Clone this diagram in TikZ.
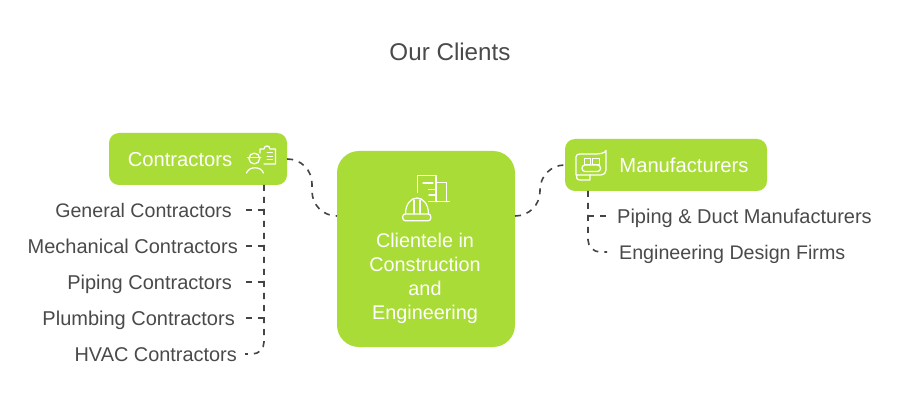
\documentclass[tikz,border=0pt]{standalone}
\usepackage{fontspec}
\setmainfont{Liberation Sans}
\definecolor{lime}{HTML}{A9DC37}
\definecolor{ink}{HTML}{4A4A4A}
\definecolor{line}{HTML}{444444}
\tikzset{
 x=1pt,y=-1pt,
 hub/.style={fill=lime,draw=none,inner sep=0pt,rounded corners=#1},
 hub/.default=10pt,
 toplabel/.style={text=white,font=\fontsize{20.2}{24}\selectfont,inner sep=0pt,text height=14pt,text depth=0pt},
 leaf/.style={text=ink,font=\fontsize{#1}{22}\selectfont,inner sep=0pt,text height=14pt,text depth=0pt},
 leaf/.default=20,
 link/.style={draw=line,line width=1.6pt,dash pattern=on 6pt off 6pt},
 glyph/.style={draw=white,line width=1.25pt,line join=round,line cap=round},
}
\begin{document}
\begin{tikzpicture}
\useasboundingbox (0,0) rectangle (900,414);
\fill[white] (0,0) rectangle (900,414);
\node[text=ink,font=\fontsize{24.2}{28}\selectfont,inner sep=0pt] (title) at (450,52) {Our Clients};
% boxes
\node[hub,minimum width=178pt,minimum height=52pt] (contractors) at (198,159) {};
\node[hub=22pt,minimum width=178pt,minimum height=196pt] (center) at (426,249) {};
\node[hub,minimum width=202pt,minimum height=52pt] (manufacturers) at (666,165) {};
\node[toplabel,anchor=center] (contractorstext) at (180,159.5) {Contractors};
\node[toplabel,anchor=center] (manufacturerstext) at (684,165.5) {Manufacturers};
\node[text=white,inner sep=0pt,align=center,font=\fontsize{19.8}{24}\selectfont] (centertext) at (425,278) {Clientele in\\Construction\\and\\Engineering};
% leaves
\node[leaf=19.6,anchor=east] (l1) at (232,210.5) {General Contractors};
\node[leaf,anchor=east] (l2) at (238,246.5) {Mechanical Contractors};
\node[leaf,anchor=east] (l3) at (232,282.5) {Piping Contractors};
\node[leaf,anchor=east] (l4) at (235,318.5) {Plumbing Contractors};
\node[leaf=19.9,anchor=east] (l5) at (237,354.5) {HVAC Contractors};
\node[leaf,anchor=west] (r1) at (617,216.5) {Piping \& Duct Manufacturers};
\node[leaf=19.65,anchor=west] (r2) at (619,252.5) {Engineering Design Firms};
% connector ends
\coordinate (cin) at (337,216);
\coordinate (cout) at (515,216);
\coordinate (ctrunk) at (264,185);
\coordinate (ca) at (264,210);
\coordinate (cb) at (264,246);
\coordinate (cc) at (264,282);
\coordinate (cd) at (264,318);
\coordinate (ce) at (264,342);
\coordinate (mtrunk) at (588,191);
\coordinate (ma) at (588,216);
\coordinate (mb) at (588,240);
\coordinate (l5end) at (245,354);
\coordinate (r2end) at (607,252);
\coordinate (r1end) at (606,216);
\coordinate (s1) at (246,210);
\coordinate (s2) at (246,246);
\coordinate (s3) at (246,282);
\coordinate (s4) at (246,318);
% connectors
\draw[link] (contractors.east) .. controls (301,159) and (312,170) .. (312,184) -- (312,191) .. controls (312,205) and (323,216) .. (cin);
\draw[link] (cout) .. controls (529,216) and (540,205) .. (540,191) -- (540,190) .. controls (540,176) and (551,165) .. (manufacturers.west);
\draw[link] (ctrunk) -- (ce) .. controls (264,349) and (259,354) .. (252,354) -- (l5end);
\draw[link] (s1) -- (ca);
\draw[link] (s2) -- (cb);
\draw[link] (s3) -- (cc);
\draw[link] (s4) -- (cd);
\draw[link] (mtrunk) -- (mb) .. controls (588,247) and (594,252) .. (600,252) -- (r2end);
\draw[link] (r1end) -- (ma);
% worker icon
\draw[glyph] (254.3,158.5) circle (5.4);
\draw[glyph] (247.8,157.5) -- (260.8,157.5);
\draw[glyph] (246.5,173) .. controls (248,169.5) and (251,167.8) .. (255,167.8) .. controls (259,167.8) and (262,169.5) .. (263.5,173);
\draw[glyph] (260,153) -- (260,149) -- (264,149) .. controls (264,145) and (270,145) .. (270,149) -- (275.5,149) -- (275.5,164) -- (264,164);
\draw[glyph,line width=1pt] (267,153) -- (272.5,153) (267,156.5) -- (272.5,156.5) (267,160) -- (272.5,160);
% center icon
\draw[glyph] (417.7,192.5) -- (417.7,175.7) -- (436,175.7) -- (436,182.3) -- (446.7,182.3) -- (446.7,201.7);
\draw[glyph] (436,182.3) -- (436,201.7);
\draw[glyph] (428.5,201.7) -- (449.3,201.7);
\draw[glyph] (428.5,189.5) -- (436,189.5) (429,195) -- (436,195) (423,183) -- (433,183);
\draw[glyph] (405.5,214) .. controls (405.5,204) and (411,198) .. (417,198) .. controls (423,198) and (428.5,204) .. (428.5,214);
\draw[glyph] (414,214) -- (414,200) (420,214) -- (420,200);
\draw[glyph,rounded corners=2.5pt] (402.8,214) rectangle (430.7,220.7);
% manufacturer icon
\draw[glyph] (576,175) -- (576,157) .. controls (576,154.5) and (578,154) .. (580,154) -- (596,154) .. controls (600,154) and (605,153) .. (606,150.5) -- (606,170) .. controls (606,173) and (604,175) .. (601,175) -- (576,175);
\draw[glyph] (577,175) .. controls (576,178) and (577,180) .. (580,180) -- (590,180) -- (590,175);
\draw[glyph,rounded corners=3pt] (582,165) rectangle (600.5,171.5);
\draw[glyph,line width=1pt] (584.5,158.5) rectangle (590.7,165) (592.5,158.5) rectangle (599,165);
\end{tikzpicture}
\end{document}
